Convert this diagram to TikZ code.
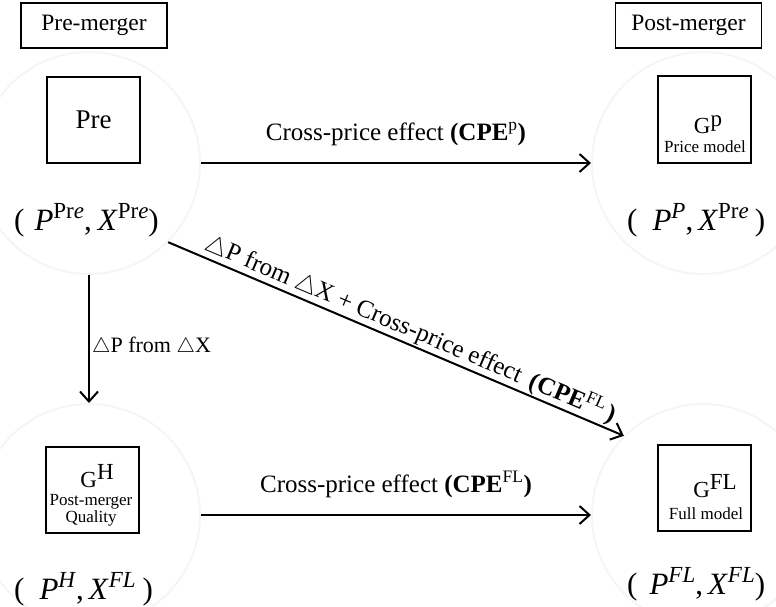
\documentclass[tikz,border=0pt]{standalone}
\usepackage{fontspec}
\setmainfont{Liberation Serif}
\usetikzlibrary{arrows.meta}
\newcommand{\supx}[1]{\raisebox{12pt}{\fontsize{23}{23}\selectfont #1}}
\newcommand{\tri}{$\triangle$}
\tikzset{
  faint/.style={circle, draw=black!4, line width=2pt, minimum size=222pt, inner sep=0pt},
  hdr/.style={draw, line width=1.6pt, minimum width=146pt, minimum height=45pt, inner sep=0pt, font=\fontsize{23.5}{23.5}\selectfont},
  model/.style={draw, line width=2pt, minimum width=93pt, minimum height=86pt, inner sep=0pt},
  tup/.style={font=\fontsize{31}{31}\selectfont, inner sep=0pt, anchor=base west},
  lbl/.style={font=\fontsize{25}{25}\selectfont, inner sep=0pt},
  small/.style={font=\fontsize{17}{19}\selectfont, inner sep=0pt, align=center},
  gsym/.style={font=\fontsize{23}{23}\selectfont, inner sep=0pt, anchor=base},
  arr/.style={line width=2pt, -{Straight Barb[length=10pt,width=18pt]}},
}
\begin{document}
\begin{tikzpicture}[x=1pt,y=-1pt]
\useasboundingbox (0,0) rectangle (776,607);
% faint circles
\node[faint] (tl) at (89,163) {};
\node[faint] (tr) at (703,163) {};
\node[faint] (bl) at (89,515) {};
\node[faint] (br) at (703,515) {};
% headers
\node[hdr] (pre) at (94,25.5) {Pre-merger};
\node[hdr] (post) at (688.5,25.5) {Post-merger};
% model boxes
\node[model, font=\fontsize{27}{27}\selectfont] (bpre) at (93.5,120) {Pre};
\node[model] (bp) at (704.5,119.5) {};
\node[gsym] (gp) at (708,134) {G\raisebox{7pt}{p}};
\node[small, anchor=base] (gpl) at (705,153) {Price model};
\node[model] (bh) at (92,489.5) {};
\node[gsym] (gh) at (97,487) {G\raisebox{8pt}{H}};
\node[small, anchor=base] (ghl1) at (91,505) {Post-merger};
\node[small, anchor=base] (ghl2) at (91,522) {Quality};
\node[model] (bfl) at (704.5,487.5) {};
\node[gsym] (gfl) at (715,497) {G\raisebox{8pt}{FL}};
\node[small, anchor=base] (gfll) at (706,519) {Full model};
% tuples
\node[tup] (tpre) at (14,230) {(\hspace{10pt}\textit{P}\supx{Pr\textit{e}},\hspace{6pt}\textit{X}\supx{Pr\textit{e}})};
\node[tup] (tp) at (627,230) {(\hspace{15pt}\textit{P}\supx{\textit{P}},\hspace{5pt}\textit{X}\supx{Pr\textit{e}}\hspace{6pt})};
\node[tup] (th) at (14,599) {(\hspace{15pt}\textit{P}\supx{\textit{H}},\hspace{5pt}\textit{X}\supx{\textit{FL}}\hspace{7pt})};
\node[tup] (tfl) at (627,594) {(\hspace{12pt}\textit{P}\supx{\textit{FL}},\hspace{5pt}\textit{X}\supx{\textit{FL}})};
% connectors
\draw[arr] (tl.east) -- node[lbl, anchor=base, yshift=23pt] (l1) {Cross-price effect \textbf{(CPE}\textsuperscript{p}\textbf{)}} (tr.west);
\draw[arr] (bl.east) -- node[lbl, anchor=base, yshift=23pt] (l2) {Cross-price effect \textbf{(CPE}\textsuperscript{FL}\textbf{)}} (br.west);
\draw[arr] (tl.south) -- (bl.north);
\node[font=\fontsize{22}{22}\selectfont, inner sep=0pt, anchor=base west] (l3) at (92,352) {\tri P from \tri X};
\draw[arr] (tl.-45) -- node[lbl, sloped, above=1pt, pos=0.52] (l4) {\tri P from \tri X + Cross-price effect\, \textbf{(CPE}\textsuperscript{FL}\,\textbf{)}} (br.135);
\end{tikzpicture}
\end{document}
